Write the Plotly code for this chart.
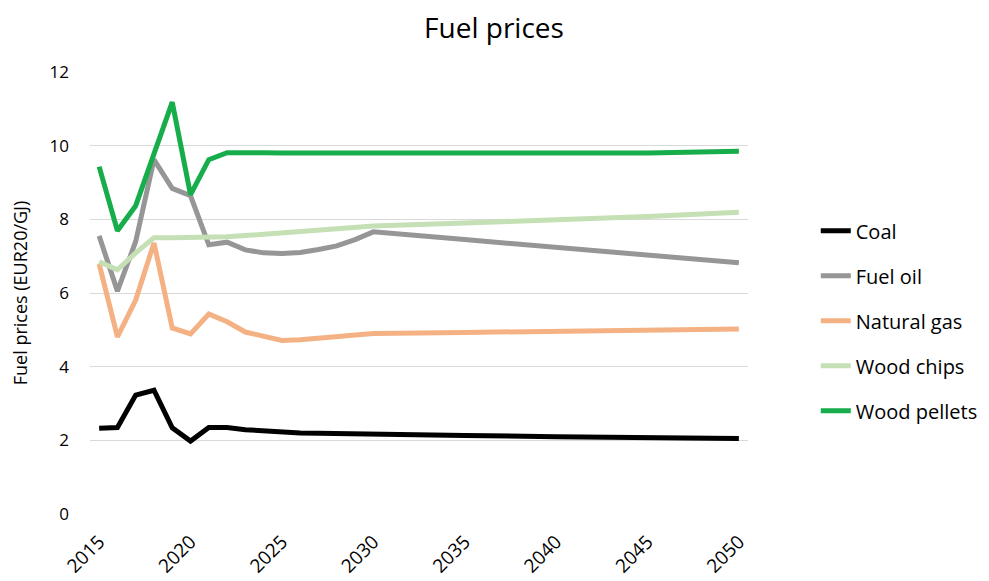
import plotly.graph_objects as go

years = [2015, 2016, 2017, 2018, 2019, 2020, 2021, 2022, 2023, 2024, 2025,
         2026, 2027, 2028, 2029, 2030, 2035, 2040, 2045, 2050]

coal = [2.33, 2.35, 3.23, 3.36, 2.34, 1.98, 2.35, 2.35, 2.29, 2.25, 2.21,
        2.20, 2.19, 2.18, 2.17, 2.15, 2.13, 2.10, 2.08, 2.05]
fuel_oil = [7.55, 6.05, 7.40, 9.62, 8.84, 8.64, 7.31, 7.38, 7.17, 7.09, 7.07,
            7.10, 7.18, 7.28, 7.45, 7.66, 7.45, 7.24, 7.03, 6.82]
natural_gas = [6.79, 4.81, 5.81, 7.36, 5.05, 4.89, 5.43, 5.22, 4.94, 4.81, 4.71,
               4.73, 4.77, 4.81, 4.86, 4.90, 4.93, 4.96, 4.99, 5.02]
wood_chips = [6.85, 6.63, 7.09, 7.50, 7.50, 7.50, 7.51, 7.53, 7.56, 7.60, 7.64,
              7.68, 7.71, 7.74, 7.78, 7.82, 7.90, 7.98, 8.08, 8.19]
wood_pellets = [9.43, 7.69, 8.37, 9.75, 11.18, 8.67, 9.62, 9.81, 9.82, 9.81, 9.80,
                9.80, 9.79, 9.79, 9.79, 9.80, 9.80, 9.79, 9.80, 9.85]

series = [
    ("Coal", coal, "#000000"),
    ("Fuel oil", fuel_oil, "#969696"),
    ("Natural gas", natural_gas, "#F4B183"),
    ("Wood chips", wood_chips, "#C5E0B4"),
    ("Wood pellets", wood_pellets, "#17AD4B"),
]

tick_vals = [2015, 2020, 2025, 2030, 2035, 2040, 2045, 2050]
tick_text = [str(v) for v in tick_vals]

FONT = "Open Sans, Noto Sans, sans-serif"

fig = go.Figure()
for name, vals, color in series:
    fig.add_trace(go.Scatter(
        x=years, y=vals, name=name, mode="lines",
        line=dict(color=color, width=5),
        legendgroup=name,
    ))

fig.update_layout(
    width=989, height=581,
    paper_bgcolor="white", plot_bgcolor="white",
    margin=dict(l=82, r=249, t=64, b=75),
    font=dict(family=FONT, size=17, color="#000000"),
    title=dict(text="Fuel prices", x=0.4914, xref="container", xanchor="center",
               y=0.965, yref="container", yanchor="middle",
               font=dict(size=28, family=FONT, color="#000000")),
    showlegend=True,
    legend=dict(x=1.103, xanchor="left", y=0.437, yanchor="middle",
                font=dict(size=20, family=FONT), tracegroupgap=16,
                bgcolor="rgba(0,0,0,0)"),
    xaxis=dict(range=[2014.5, 2050.5], tickvals=tick_vals, ticktext=tick_text,
               tickangle=-45, showgrid=False, zeroline=False, showline=False,
               ticks="", tickfont=dict(size=19, family=FONT), ticklabelstandoff=12),
    yaxis=dict(range=[0, 12], dtick=2, showgrid=True, gridcolor="#D9D9D9",
               gridwidth=1, zeroline=False, showline=False, ticks="",
               tickfont=dict(size=17, family=FONT), ticklabelstandoff=20,
               title=dict(text="Fuel prices (EUR20/GJ)", font=dict(size=18, family=FONT),
                          standoff=17)),
)

fig.write_html("out.html")
